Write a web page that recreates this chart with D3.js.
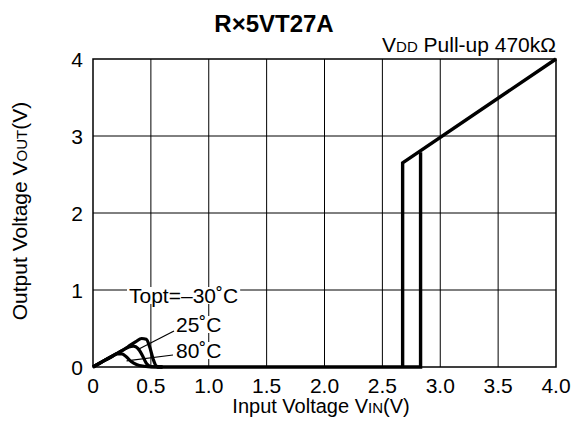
<html>
<head>
  <meta http-equiv='Content-Type' content='text/html;charset=utf-8'>
  <script src="https://cdn.jsdelivr.net/npm/d3@7"></script>
  <style type='text/css'>
    body { margin: 0; background: #fff; font-family: 'Liberation Sans', Arial, sans-serif; }
    svg text { fill: #000; }
  </style>
</head>
<body>
<div id="main"></div>
<script type='text/javascript'>

// data
var xTicks = [0, 0.5, 1.0, 1.5, 2.0, 2.5, 3.0, 3.5, 4.0],
    xTickLabels = ['0', '0.5', '1.0', '1.5', '2.0', '2.5', '3.0', '3.5', '4.0'],
    yTicks = [0, 1, 2, 3, 4];

// falling branch (high -> low at 2.83 V) and rising branch (2.675 V, then up to 4 V)
var fallVin  = [0.55, 2.83, 2.83],
    fallVout = [0, 0, 2.79];
var riseVin  = [2.675, 2.675, 4.0],
    riseVout = [0, 2.65, 4.0];

// low-voltage bumps per temperature
var tempLabels = ['Topt=\u201330\u02daC', '25\u02daC', '80\u02daC'];
var bumpVin = [
  [0, 0.1, 0.2, 0.3, 0.37, 0.42, 0.46, 0.49, 0.52, 0.55, 0.6],
  [0, 0.1, 0.2, 0.26, 0.31, 0.35, 0.39, 0.43, 0.46, 0.5, 0.6],
  [0, 0.1, 0.17, 0.21, 0.25, 0.29, 0.33, 0.38, 0.44, 0.5, 0.6]
];
var bumpVout = [
  [0, 0.085, 0.17, 0.26, 0.33, 0.37, 0.36, 0.26, 0.1, 0.01, 0],
  [0, 0.085, 0.17, 0.22, 0.26, 0.27, 0.24, 0.14, 0.05, 0.005, 0],
  [0, 0.085, 0.14, 0.17, 0.17, 0.13, 0.07, 0.03, 0.01, 0, 0]
];

var W = 576, H = 429,
    m = { top: 59, right: 20, bottom: 62, left: 93 },
    w = 556 - m.left,
    h = 367 - m.top;

var svg = d3.select('#main').append('svg')
    .attr('width', W)
    .attr('height', H);

var x = d3.scaleLinear().domain([0, 4]).range([m.left, m.left + w]),
    y = d3.scaleLinear().domain([0, 4]).range([m.top + h, m.top]);

// grid
svg.append('g').selectAll('line')
    .data(xTicks.slice(1, -1))
  .enter().append('line')
    .attr('x1', function (d) { return x(d); })
    .attr('x2', function (d) { return x(d); })
    .attr('y1', y(0)).attr('y2', y(4))
    .style('stroke', '#000').style('stroke-width', 1);

svg.append('g').selectAll('line')
    .data(yTicks.slice(1, -1))
  .enter().append('line')
    .attr('x1', x(0)).attr('x2', x(4))
    .attr('y1', function (d) { return y(d); })
    .attr('y2', function (d) { return y(d); })
    .style('stroke', '#000').style('stroke-width', 1);

svg.append('rect')
    .attr('x', x(0)).attr('y', y(4))
    .attr('width', x(4) - x(0)).attr('height', y(0) - y(4))
    .style('fill', 'none').style('stroke', '#000').style('stroke-width', 1.5);

// tick labels
svg.append('g').selectAll('text')
    .data(xTicks)
  .enter().append('text')
    .attr('x', function (d) { return x(d); })
    .attr('y', 393)
    .attr('text-anchor', 'middle')
    .style('font-size', '21px')
    .text(function (d, i) { return xTickLabels[i]; });

svg.append('g').selectAll('text')
    .data(yTicks)
  .enter().append('text')
    .attr('x', 83)
    .attr('y', function (d) { return y(d) + 8; })
    .attr('text-anchor', 'end')
    .style('font-size', '21px')
    .text(function (d) { return d; });

// annotation boxes (drawn over the grid)
function label(tx, ty, str) {
  var g = svg.append('g');
  var bg = g.append('rect').style('fill', '#fff');
  var t = g.append('text')
      .attr('x', tx).attr('y', ty)
      .style('font-size', '21px')
      .text(str);
  var b = t.node().getBBox();
  bg.attr('x', b.x - 2).attr('y', b.y + 3)
    .attr('width', b.width + 4).attr('height', b.height - 6);
  return t;
}

var line = d3.line()
    .x(function (d) { return x(d[0]); })
    .y(function (d) { return y(d[1]); });
var smooth = d3.line()
    .curve(d3.curveMonotoneX)
    .x(function (d) { return x(d[0]); })
    .y(function (d) { return y(d[1]); });

label(129, 303, tempLabels[0]);
label(176, 332, tempLabels[1]);
label(176, 358, tempLabels[2]);

// leader lines
svg.append('path')
    .attr('d', 'M' + 174 + ',' + 331 + 'L' + x(0.38) + ',' + y(0.22))
    .style('stroke', '#000').style('stroke-width', 1.2);
svg.append('path')
    .attr('d', 'M' + 173 + ',' + 355 + 'L' + x(0.29) + ',' + y(0.08))
    .style('stroke', '#000').style('stroke-width', 1.2);

// curves
bumpVin.forEach(function (xs, k) {
  svg.append('path')
      .attr('d', smooth(xs.map(function (v, i) { return [v, bumpVout[k][i]]; })))
      .style('fill', 'none').style('stroke', '#000').style('stroke-width', 3.2);
});

svg.append('path')
    .attr('d', line(fallVin.map(function (v, i) { return [v, fallVout[i]]; })))
    .style('fill', 'none').style('stroke', '#000').style('stroke-width', 3.4);

svg.append('path')
    .attr('d', line(riseVin.map(function (v, i) { return [v, riseVout[i]]; })))
    .style('fill', 'none').style('stroke', '#000').style('stroke-width', 3.4);

// title
svg.append('text')
    .attr('x', 274).attr('y', 32)
    .attr('text-anchor', 'middle')
    .style('font-size', '24px').style('font-weight', 'bold')
    .text('R\u00d75VT27A');

var vdd = svg.append('text')
    .attr('x', 556).attr('y', 52)
    .attr('text-anchor', 'end')
    .style('font-size', '21px');
vdd.append('tspan').text('V');
vdd.append('tspan').style('font-size', '15px').text('DD');
vdd.append('tspan').text(' Pull-up 470k\u03a9');

var xl = svg.append('text')
    .attr('x', 321).attr('y', 413)
    .attr('text-anchor', 'middle')
    .style('font-size', '20px');
xl.append('tspan').text('Input Voltage V');
xl.append('tspan').style('font-size', '15px').text('IN');
xl.append('tspan').text('(V)');

var yl = svg.append('text')
    .attr('transform', 'translate(27,211) rotate(-90)')
    .attr('text-anchor', 'middle')
    .style('font-size', '21px');
yl.append('tspan').text('Output Voltage V');
yl.append('tspan').style('font-size', '15px').text('OUT');
yl.append('tspan').text('(V)');

</script>
</body>
</html>
